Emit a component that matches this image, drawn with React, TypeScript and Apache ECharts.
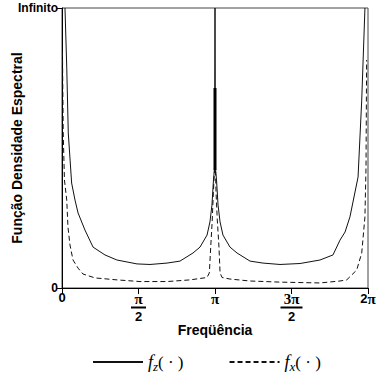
import React, { useEffect, useRef } from "react";
import * as echarts from "echarts";

// x in units of π (0..2), y in % of the "Infinito" level (0..100)
const fzX = [0.0196, 0.031, 0.041, 0.063, 0.085, 0.105, 0.15, 0.203, 0.281, 0.359, 0.49, 0.575, 0.686, 0.771, 0.856, 0.902, 0.948, 0.967, 0.98, 0.99, 0.997, 1.0,
  1.003, 1.01, 1.02, 1.033, 1.052, 1.098, 1.144, 1.229, 1.314, 1.425, 1.556, 1.686, 1.771, 1.817, 1.85, 1.882, 1.935, 1.959, 1.98];
const fzY = [100, 78.9, 55.4, 37.5, 31.4, 26.8, 20.7, 14.6, 11.8, 10.0, 8.6, 8.4, 8.9, 9.6, 12.5, 14.6, 18.9, 23.6, 29.6, 38.6, 42.9, 100,
  42.9, 38.6, 29.6, 23.6, 18.9, 14.6, 12.5, 9.6, 8.9, 8.4, 8.75, 10.0, 11.8, 17.1, 20.0, 25.4, 39.6, 67.1, 100];

const fxX = [0.003, 0.008, 0.016, 0.031, 0.039, 0.052, 0.072, 0.105, 0.137, 0.216, 0.359, 0.51, 0.686, 0.837, 0.902, 0.948, 0.963, 0.972, 0.982, 0.989, 0.997, 1.0,
  1.003, 1.007, 1.015, 1.026, 1.033, 1.046, 1.098, 1.229, 1.425, 1.686, 1.817, 1.861, 1.926, 1.959, 1.98, 1.987, 1.991];
const fxY = [84.3, 55.4, 38.6, 31.4, 21.8, 15.4, 10.0, 7.1, 5.0, 3.6, 2.9, 2.3, 2.3, 2.9, 3.4, 3.75, 5.4, 14.6, 24.3, 33.9, 42.1, 42.9,
  42.1, 33.9, 24.3, 14.6, 5.4, 3.75, 3.2, 2.5, 2.1, 1.8, 2.5, 2.9, 6.4, 12.5, 25.4, 43.2, 81.4];

const spikeX = [1.0, 1.0];
const spikeY = [71.4, 42.1];

const xTicks = [0, 0.5, 1, 1.5, 2];
const xTickLabels = ["0", "{n|π}\n{b| }\n{d|2}", "{n|π}", "{n|3π}\n{b2| }\n{d|2}", "{d|2}{n|π}"];
const yTickValues = [0, 100];
const yTickLabels = ["0", "Infinito"];

const seriesNames = ["fz", "fx"];
const legendLabels = ["{f|f}{s|z}{p|( · )}", "{f|f}{s|x}{p|( · )}"];

const zip = (xs: number[], ys: number[]) => xs.map((x, i) => [x, ys[i]]);

export default function App() {
  const ref = useRef<HTMLDivElement>(null);
  useEffect(() => {
    if (!ref.current) return;
    const chart = echarts.init(ref.current, null, { renderer: "svg" });
    const sans = "Liberation Sans, Arial, sans-serif";
    const serif = "Liberation Serif, Times New Roman, serif";
    chart.setOption({
      animation: false,
      backgroundColor: "#fff",
      grid: {
        left: 62, right: 9, top: 8, bottom: 93,
        show: true, borderColor: "#444", borderWidth: 1,
        containLabel: false, outerBoundsMode: "none",
      },
      xAxis: {
        type: "value",
        min: 0,
        max: 2,
        interval: 0.5,
        name: "Freqüência",
        nameLocation: "middle",
        nameGap: 35,
        nameMoveOverlap: false,
        nameTextStyle: { fontFamily: sans, fontWeight: "bold", fontSize: 14, color: "#000" },
        axisLine: { onZero: false, lineStyle: { color: "#000", width: 1 } },
        axisTick: { length: 6, lineStyle: { color: "#000" } },
        splitLine: { show: false },
        axisLabel: {
          margin: 3,
          verticalAlign: "top",
          formatter: (v: number) => {
            const i = xTicks.findIndex((t) => Math.abs(t - v) < 1e-9);
            return i >= 0 ? xTickLabels[i] : "";
          },
          fontFamily: sans,
          fontWeight: "bold",
          fontSize: 13,
          color: "#000",
          rich: {
            n: { fontFamily: serif, fontWeight: "bold", fontSize: 15, color: "#000", lineHeight: 15 },
            d: { fontFamily: sans, fontWeight: "bold", fontSize: 13, color: "#000", lineHeight: 14 },
            b: { width: 15, height: 2, lineHeight: 3, backgroundColor: "#000", fontSize: 1 },
            b2: { width: 22, height: 2, lineHeight: 3, backgroundColor: "#000", fontSize: 1 },
          },
        },
      },
      yAxis: {
        type: "value",
        min: 0,
        max: 100,
        interval: 100,
        name: "Função Densidade Espectral",
        nameLocation: "middle",
        nameGap: 38,
        nameMoveOverlap: false,
        nameTextStyle: { fontFamily: sans, fontWeight: "bold", fontSize: 14, color: "#000" },
        axisLine: { show: true, lineStyle: { color: "#000", width: 1 } },
        axisTick: { show: true, length: 5, lineStyle: { color: "#000" } },
        splitLine: { show: false },
        axisLabel: {
          margin: 4,
          formatter: (v: number) => {
            const i = yTickValues.indexOf(v);
            return i >= 0 ? yTickLabels[i] : "";
          },
          fontFamily: sans,
          fontWeight: "bold",
          fontSize: 12,
          color: "#000",
        },
      },
      legend: {
        data: seriesNames,
        left: 87,
        top: 348,
        itemWidth: 50,
        itemHeight: 14,
        itemGap: 45,
        itemStyle: { opacity: 0 },
        formatter: (name: string) => legendLabels[seriesNames.indexOf(name)],
        textStyle: {
          color: "#000",
          rich: {
            f: { fontFamily: serif, fontStyle: "italic", fontSize: 18, color: "#000", lineHeight: 22 },
            s: { fontFamily: serif, fontStyle: "italic", fontSize: 13, color: "#000", verticalAlign: "bottom", lineHeight: 12 },
            p: { fontFamily: serif, fontSize: 17, color: "#000", lineHeight: 22 },
          },
        },
      },
      series: [
        {
          name: seriesNames[0],
          type: "line",
          data: zip(fzX, fzY),
          symbol: "none",
          lineStyle: { color: "#111", width: 1 },
          itemStyle: { color: "#111" },
        },
        {
          name: seriesNames[1],
          type: "line",
          data: zip(fxX, fxY),
          symbol: "none",
          lineStyle: { color: "#111", width: 1, type: [5, 3] },
          itemStyle: { color: "#111" },
        },
        {
          name: "spike",
          type: "line",
          data: zip(spikeX, spikeY),
          symbol: "none",
          lineStyle: { color: "#000", width: 3 },
        },
      ],
    });
    return () => chart.dispose();
  }, []);
  return <div ref={ref} style={{ width: 377, height: 381, position: "fixed", left: 0, top: 0 }} />;
}
